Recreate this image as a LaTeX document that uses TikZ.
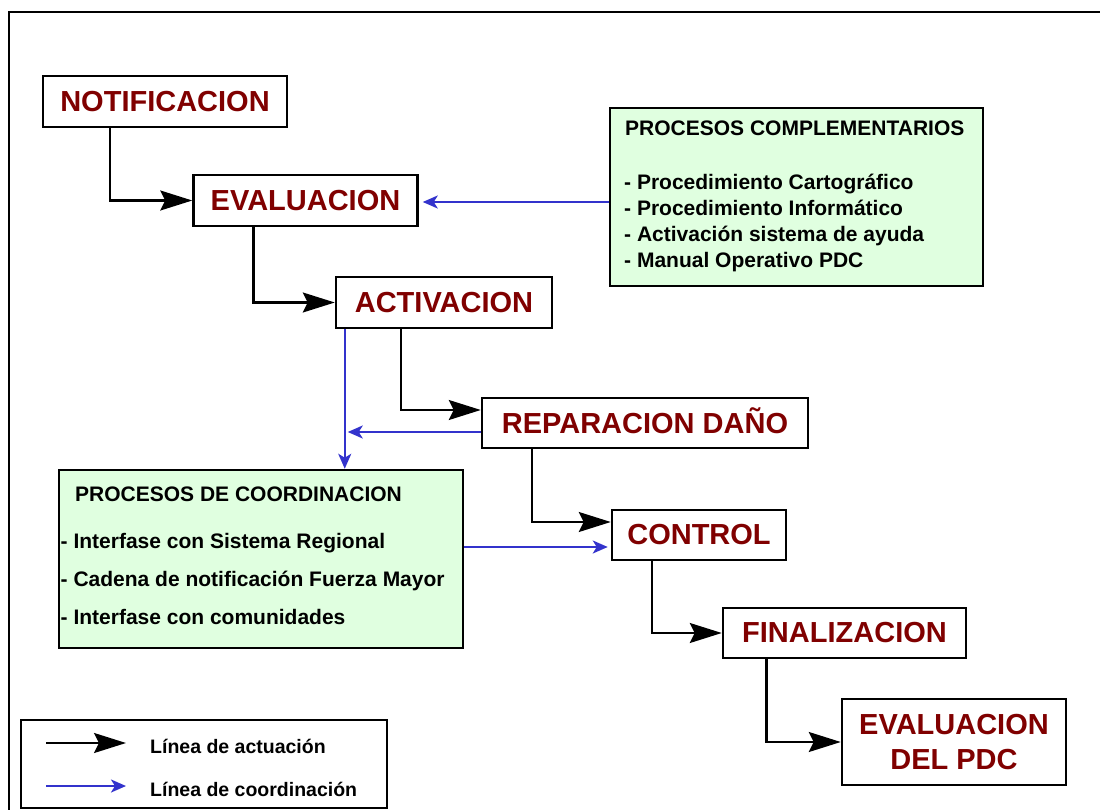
\documentclass[tikz,border=0pt]{standalone}
\usepackage{fontspec}
\setmainfont{Liberation Sans}
\usetikzlibrary{arrows.meta}

\definecolor{stagered}{HTML}{800000}
\definecolor{procgreen}{HTML}{E0FFE0}
\definecolor{coordblue}{HTML}{3333CC}

\begin{document}
\begin{tikzpicture}[x=1pt, y=-1pt,
    stage/.style={draw, line width=2.5pt, fill=white, inner sep=0pt, text=stagered,
        align=center, font=\fontsize{29}{35.7}\selectfont\bfseries},
    procbox/.style={draw, line width=2.5pt, fill=procgreen, inner sep=0pt},
    proctext/.style={anchor=base west, inner sep=0pt, font=\fontsize{21}{25}\selectfont\bfseries},
    legtext/.style={anchor=base west, inner sep=0pt, font=\fontsize{19.5}{23}\selectfont\bfseries},
    actline/.style={line width=2.3pt, -{Stealth[length=32pt, width=20pt, inset=5pt]}},
    coordline/.style={line width=2.2pt, coordblue, -{Stealth[length=15pt, width=13pt, inset=4pt]}}]

    % --- Page and outer frame ---
    \useasboundingbox (0,0) rectangle (1100,810);
    \clip (0,0) rectangle (1100,810);
    \draw[line width=2.3pt] (9,12) rectangle (1130,840);

    % --- Stages ---
    \node[stage, minimum width=244pt, minimum height=51pt] (notif) at (165,101.5) {NOTIFICACION};
    \node[stage, minimum width=224pt, minimum height=51pt] (eval) at (305.5,200.5) {EVALUACION};
    \node[stage, minimum width=216pt, minimum height=51pt] (activ) at (444,302.5) {ACTIVACION};
    \node[stage, minimum width=326pt, minimum height=50pt, text height=20.8pt, text depth=0pt] (repar) at (645,423) {REPARACION DAÑO};
    \node[stage, minimum width=174pt, minimum height=50pt] (control) at (699,535) {CONTROL};
    \node[stage, minimum width=243pt, minimum height=50pt] (final) at (844.5,633) {FINALIZACION};
    \node[stage, minimum width=224pt, minimum height=86pt] (evalpdc) at (954,742) {EVALUACION\\DEL PDC};

    % --- Complementary processes ---
    \node[procbox, minimum width=373pt, minimum height=178pt] (comp) at (796.5,197) {};
    \node[proctext] (comp-title) at (625,136) {PROCESOS COMPLEMENTARIOS};
    \node[proctext] (comp-carto) at (624,190) {- Procedimiento Cartográfico};
    \node[proctext] (comp-info) at (624,216) {- Procedimiento Informático};
    \node[proctext] (comp-ayuda) at (624,242) {- Activación sistema de ayuda};
    \node[proctext] (comp-manual) at (624,268) {- Manual Operativo PDC};

    % --- Coordination processes ---
    \node[procbox, minimum width=404pt, minimum height=178pt] (coord) at (261,559) {};
    \node[proctext] (coord-title) at (75,501) {PROCESOS DE COORDINACION};
    \node[proctext] (coord-region) at (60.5,548) {- Interfase con Sistema Regional};
    \node[proctext] (coord-cadena) at (60.5,586) {- Cadena de notificación Fuerza Mayor};
    \node[proctext] (coord-comun) at (60.5,624) {- Interfase con comunidades};

    % --- Action lines ---
    \draw[actline] ([xshift=-55pt]notif.south) |- (eval.west);
    \draw[actline] ([xshift=-52pt]eval.south) |- (activ.west);
    \draw[actline] ([xshift=-43pt]activ.south) |- ([yshift=13pt]repar.west);
    \draw[actline] ([xshift=-113pt]repar.south) |- ([yshift=13pt]control.west);
    \draw[actline] ([xshift=-47pt]control.south) |- (final.west);
    \draw[actline] ([xshift=-78pt]final.south) |- (evalpdc.west);

    % --- Coordination lines ---
    \coordinate (compout) at ([yshift=-5pt]comp.west);
    \coordinate (bluedrop) at ([xshift=10pt]activ.south west);
    \coordinate (repout) at ([yshift=-9pt]repar.west);
    \coordinate (ctlin) at ([yshift=-12pt]control.west);
    \draw[coordline, shorten >=4pt] (compout) -- (compout -| eval.east);
    \draw[coordline] (bluedrop) -- (bluedrop |- coord.north);
    \draw[coordline, shorten >=3pt] (repout) -- (repout -| bluedrop);
    \draw[coordline, shorten >=3pt] (coord.east |- ctlin) -- (ctlin);

    % --- Legend ---
    \node[draw, line width=2.3pt, fill=white, inner sep=0pt, minimum width=366pt, minimum height=88pt] (legend) at (204,764) {};
    \coordinate (legact-a) at (46,743);
    \coordinate (legact-b) at (126,743);
    \coordinate (legcoord-a) at (46,786);
    \coordinate (legcoord-b) at (126,786);
    \draw[actline] (legact-a) -- (legact-b);
    \draw[coordline] (legcoord-a) -- (legcoord-b);
    \node[legtext] (legact) at (150,753) {Línea de actuación};
    \node[legtext] (legcoord) at (150,796) {Línea de coordinación};

\end{tikzpicture}
\end{document}
